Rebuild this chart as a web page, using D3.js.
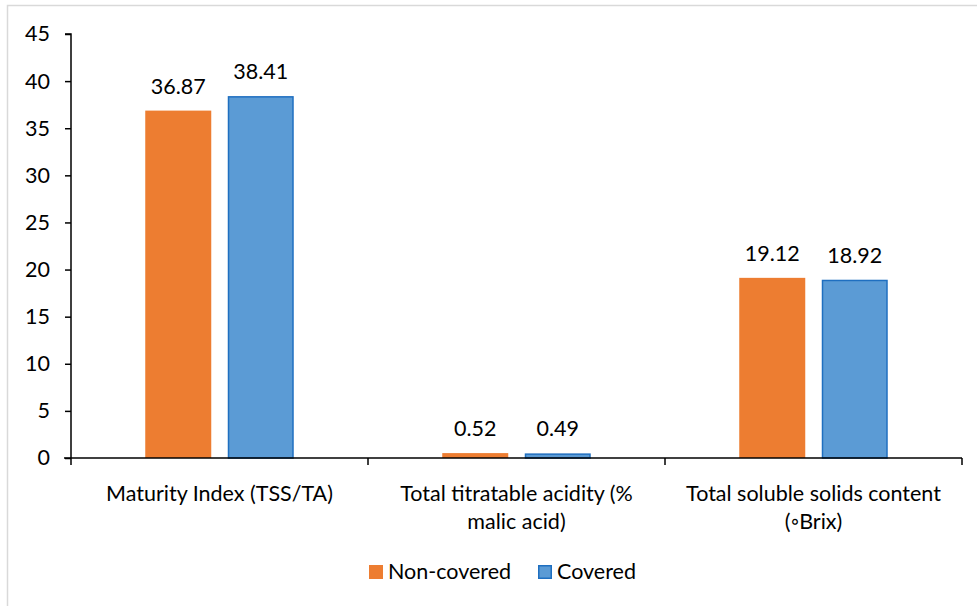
<!DOCTYPE html>
<html><head><meta charset="utf-8">
<script src="https://cdn.jsdelivr.net/npm/d3@7/dist/d3.min.js"></script>
<style>body{margin:0;background:#fff}svg{display:block}text{font-family:Lato,"Open Sans",sans-serif;fill:#000}</style>
</head><body><svg id="c" width="977" height="606"></svg>
<script>
const categories = [["Maturity Index (TSS/TA)"], ["Total titratable acidity (%", "malic acid)"], ["Total soluble solids content", "(\u25E6Brix)"]];
const seriesNames = ["Non-covered", "Covered"];
const nonCovered = [36.87, 0.52, 19.12];
const covered = [38.41, 0.49, 18.92];
const yTicks = [0, 5, 10, 15, 20, 25, 30, 35, 40, 45];

const FS = 21.5;
const fills = ["#ED7D31", "#5B9BD5"];
const strokes = ["none", "#1F6FC0"];
const svg = d3.select("#c");
svg.append("rect").attr("x", 7.5).attr("y", 5.5).attr("width", 980).attr("height", 620)
  .attr("fill", "none").attr("stroke", "#d9d9d9").attr("stroke-width", 1.5);

const m = {l: 71, r: 962, t: 34, b: 458};
const keys = categories.map((c, i) => i);
const x = d3.scaleBand().domain(keys).range([m.l, m.r]).paddingInner(0).paddingOuter(0);
const y = d3.scaleLinear().domain([0, 45]).range([m.b, m.t]);
const xs = d3.scaleBand().domain([0, 1]).range([0, x.bandwidth()]).paddingInner(0.2).paddingOuter(0.9);

const data = [nonCovered, covered];
data.forEach((vals, s) => {
  const g = svg.append("g");
  g.selectAll("rect").data(vals).join("rect")
    .attr("x", (d, i) => x(i) + xs(s) + (s ? 0.75 : 0))
    .attr("y", d => y(d) + (s ? 0.75 : 0))
    .attr("width", xs.bandwidth() - (s ? 1.5 : 0))
    .attr("height", d => m.b - y(d) - (s ? 0.75 : 0))
    .attr("fill", fills[s]).attr("stroke", strokes[s]).attr("stroke-width", s ? 1.5 : 0);
  g.selectAll("text").data(vals).join("text")
    .attr("x", (d, i) => x(i) + xs(s) + xs.bandwidth() / 2)
    .attr("y", d => y(d) - 17)
    .attr("text-anchor", "middle").attr("font-size", FS)
    .text(d => d.toFixed(2));
});

// y axis
const ya = svg.append("g").attr("transform", `translate(${m.l},0)`)
  .call(d3.axisLeft(y).tickValues(yTicks).tickSize(6).tickPadding(15).tickFormat(d3.format("d")));
ya.select(".domain").attr("stroke", "#000").attr("stroke-width", 1.5).attr("d", `M-6,${m.t}H0V${m.b}`);
ya.selectAll(".tick line").attr("stroke", "#000").attr("stroke-width", 1.5);
ya.selectAll(".tick text").attr("font-size", FS).attr("font-family", "Lato").attr("fill", "#000");

// x axis
const xa = svg.append("g").attr("transform", `translate(0,${m.b})`);
xa.append("line").attr("x1", m.l - 7).attr("x2", m.r).attr("y1", 0).attr("y2", 0).attr("stroke", "#000").attr("stroke-width", 1.5);
const edges = keys.map(k => x(k)).concat([m.r]);
xa.selectAll("line.t").data(edges).join("line").attr("class", "t")
  .attr("x1", d => d).attr("x2", d => d).attr("y1", 0).attr("y2", 7).attr("stroke", "#000").attr("stroke-width", 1.5);
categories.forEach((lines, i) => {
  const t = xa.append("text").attr("text-anchor", "middle").attr("font-size", FS)
    .attr("x", x(i) + x.bandwidth() / 2).attr("y", 43);
  lines.forEach((ln, j) => t.append("tspan").attr("x", x(i) + x.bandwidth() / 2).attr("dy", j ? 28 : 0).text(ln));
});

// legend
const lg = svg.append("g");
const lx = [369, 538];
seriesNames.forEach((n, s) => {
  lg.append("rect").attr("x", lx[s] + (s ? 0.75 : 0)).attr("y", 565 + (s ? 0.75 : 0))
    .attr("width", 14 - (s ? 1.5 : 0)).attr("height", 14 - (s ? 1.5 : 0))
    .attr("fill", fills[s]).attr("stroke", strokes[s]).attr("stroke-width", s ? 1.5 : 0);
  lg.append("text").attr("x", lx[s] + 19).attr("y", 579).attr("font-size", FS).text(n);
});
</script></body></html>
